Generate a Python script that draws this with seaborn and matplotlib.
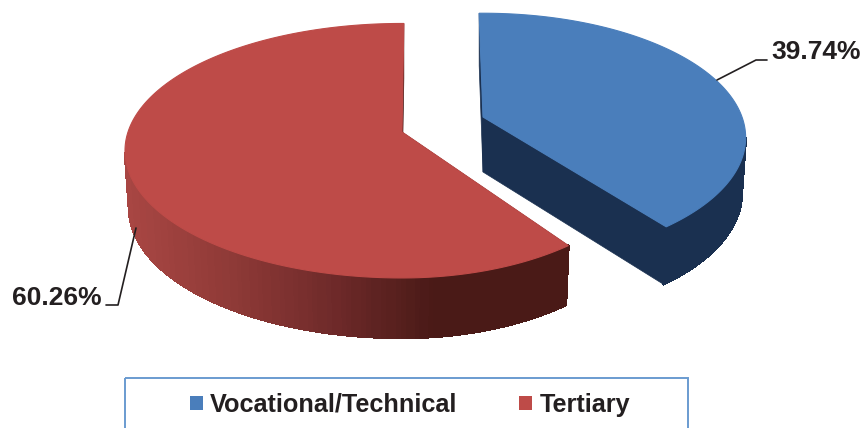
import numpy as np
import matplotlib
matplotlib.use('Agg')
import matplotlib.pyplot as plt
from matplotlib.patches import Rectangle, Patch
import seaborn as sns

# Data
categories = ['Vocational/Technical', 'Tertiary']
shares = [39.74, 60.26]
label_text = ['39.74%', '60.26%']

top_colors = ['#4a7ebb', '#be4b48']
side_blue = '#1a3050'
side_red = sns.blend_palette(['#a84643', '#8f3a37', '#6f2a2a', '#4a1a17', '#4a1a17'], n_colors=60)

sns.set_style('white')
plt.rcParams['font.family'] = ['Liberation Sans', 'DejaVu Sans']

fig, ax = plt.subplots(figsize=(8.65, 4.28), dpi=100)
ax.set_position([0, 0, 1, 1])
ax.set_xlim(0, 865)
ax.set_ylim(428, 0)
ax.axis('off')


def project(theta, geo, radius=1.0, lower=False):
    # tilted circle with a bit of perspective, far side is squeezed
    u = radius * np.cos(theta)
    v = radius * np.sin(theta)
    s = 1 / (1 + geo['k'] * v)
    rx = np.where(u > 0, geo['rx_right'], geo['rx_left'])
    x = geo['cx'] + rx * u * s
    y = geo['cy'] - geo['ry'] * v * s
    if lower:
        x = geo['cx'] + (x - geo['cx']) * geo['shrink']
        y = y + geo['depth'] * (1 + 0.3 * (s - 1))
    return x, y


def draw_slice(start_deg, share, geo, top_color, side_color):
    sweep = share / 100 * 360
    angles = np.radians(np.linspace(start_deg, start_deg + geo['dir'] * sweep, 240))
    x_top, y_top = project(angles, geo)
    x_low, y_low = project(angles, geo, lower=True)
    ax_low, ay_low = project(0.0, geo, radius=0.0, lower=True)

    # cut faces first
    for i in [0, -1]:
        color = side_color if isinstance(side_color, str) else side_color[-1]
        ax.fill([geo['cx'], x_top[i], x_low[i], ax_low],
                [geo['cy'], y_top[i], y_low[i], ay_low],
                color=color, lw=0.5, zorder=2)

    # outer wall, strip by strip, only the front part can be seen
    for i in range(len(angles) - 1):
        if np.sin(angles[i]) > -geo['k']:
            continue
        if isinstance(side_color, str):
            color = side_color
        else:
            pos = (x_top[i] - x_top.min()) / (geo['grad_end'] - x_top.min())
            color = side_color[int(np.clip(pos, 0, 1) * (len(side_color) - 1))]
        ax.fill([x_top[i], x_top[i + 1], x_low[i + 1], x_low[i]],
                [y_top[i], y_top[i + 1], y_low[i + 1], y_low[i]],
                color=color, lw=1.2, antialiased=False, zorder=3)

    # top surface
    ax.fill(np.r_[geo['cx'], x_top], np.r_[geo['cy'], y_top],
            color=top_color, lw=0.8, zorder=4)


blue_geo = dict(cx=483, cy=117, rx_left=259, rx_right=259, ry=121, k=0.166,
                depth=55, shrink=0.985, dir=-1, grad_end=700)
red_geo = dict(cx=402, cy=132, rx_left=274, rx_right=247, ry=124.5, k=0.147,
               depth=57, shrink=0.985, dir=1, grad_end=530)

draw_slice(91, shares[0], blue_geo, top_colors[0], side_blue)
draw_slice(89.5, shares[1], red_geo, top_colors[1], side_red)

# Leader lines and labels
ax.plot([717, 756, 767], [80, 60, 60], color='#231f20', lw=1.2, zorder=5)
ax.plot([136, 118, 106], [228, 305, 305], color='#231f20', lw=1.2, zorder=5)
ax.text(771, 52, label_text[0], fontsize=19, fontweight='bold', color='#231f20',
        ha='left', va='center', zorder=6)
ax.text(12, 298, label_text[1], fontsize=19, fontweight='bold', color='#231f20',
        ha='left', va='center', zorder=6)

# Legend box runs off the bottom of the picture
ax.add_patch(Rectangle((125, 378), 563, 80, fill=False, edgecolor='#6a9bd0', lw=1.4, zorder=1))
handles = [Patch(facecolor=c, edgecolor='none', label=n) for c, n in zip(top_colors, categories)]
leg = ax.legend(handles=handles, ncol=2, loc='center', bbox_to_anchor=(410, 405),
                bbox_transform=ax.transData, frameon=False, handlelength=0.52, handleheight=0.52,
                handletextpad=0.28, columnspacing=2.45,
                prop={'family': 'Liberation Sans', 'weight': 'bold', 'size': 18.2})
for t in leg.get_texts():
    t.set_color('#231f20')

fig.savefig('out.png', dpi=100)
